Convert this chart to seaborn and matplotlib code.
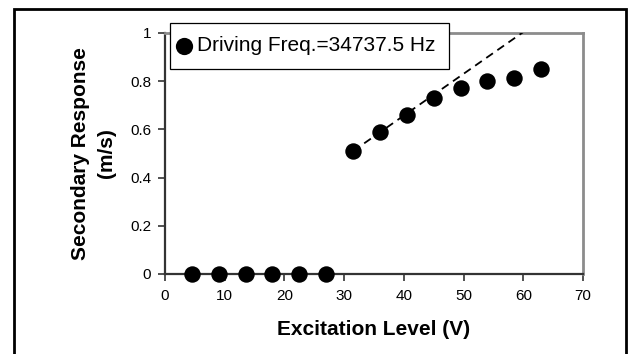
import matplotlib
matplotlib.use("Agg")
import matplotlib.pyplot as plt
import seaborn as sns
import pandas as pd
from matplotlib.patches import Rectangle

# Data
excitation_v = [4.5, 9, 13.5, 18, 22.5, 27, 31.5, 36, 40.5, 45, 49.5, 54, 58.5, 63]
response_ms = [0, 0, 0, 0, 0, 0, 0.51, 0.59, 0.66, 0.73, 0.77, 0.80, 0.815, 0.85]
trend_x = [31.5, 61.5]
trend_y = [0.51, 1.03]
series_label = "Driving Freq.=34737.5 Hz"
x_ticks = [0, 10, 20, 30, 40, 50, 60, 70]
y_ticks = [0, 0.2, 0.4, 0.6, 0.8, 1]
y_tick_labels = ["0", "0.2", "0.4", "0.6", "0.8", "1"]

sns.set_style("white")
plt.rcParams["font.family"] = ["Liberation Sans", "DejaVu Sans"]
plt.rcParams["text.color"] = "black"
plt.rcParams["axes.labelcolor"] = "black"
plt.rcParams["xtick.color"] = "black"
plt.rcParams["ytick.color"] = "black"

df = pd.DataFrame({"x": excitation_v, "y": response_ms})
tdf = pd.DataFrame({"x": trend_x, "y": trend_y})

fig = plt.figure(figsize=(6.29, 3.54), dpi=100)
ax = fig.add_axes([0.2623, 0.2260, 0.6646, 0.6808])

sns.lineplot(data=tdf, x="x", y="y", ax=ax, color="black", linewidth=1.3,
             linestyle=(0, (4.5, 3)), legend=False, zorder=3)
sns.scatterplot(data=df, x="x", y="y", ax=ax, color="black", s=140,
                edgecolor="black", linewidth=0, label=series_label,
                clip_on=False, zorder=5)

ax.set_xlim(0, 70)
ax.set_ylim(0, 1)
ax.set_xticks(x_ticks)
ax.set_xticklabels([str(t) for t in x_ticks])
ax.set_yticks(y_ticks)
ax.set_yticklabels(y_tick_labels)
ax.tick_params(axis="both", which="major", direction="out", length=5, width=1.2,
               color="#333333", labelcolor="black", labelsize=11, pad=5,
               left=True, bottom=True)
ax.tick_params(axis="x", pad=6)

for side in ("left", "bottom"):
    ax.spines[side].set_color("#333333")
    ax.spines[side].set_linewidth(1.6)
for side in ("top", "right"):
    ax.spines[side].set_color("#8c8c8c")
    ax.spines[side].set_linewidth(2.0)

ax.set_xlabel("Excitation Level (V)", fontsize=15, fontweight="bold", labelpad=12,
              color="black")
ax.set_ylabel("Secondary Response\n(m/s)", fontsize=15, fontweight="bold",
              labelpad=10, linespacing=1.5, color="black")

leg = ax.legend(loc="upper left", bbox_to_anchor=(170 / 629, 1 - 23 / 354),
                bbox_transform=fig.transFigure, frameon=True, fancybox=False,
                fontsize=15, handletextpad=0.57, borderpad=0.64,
                handlelength=0.1, borderaxespad=0, markerscale=1.05)
leg.get_frame().set_edgecolor("black")
leg.get_frame().set_linewidth(0.9)
leg.get_frame().set_alpha(1)
for t in leg.get_texts():
    t.set_color("black")
leg.set_zorder(10)

# outer border of the chart area
fig.patches.append(Rectangle((14 / 629, -0.05), (626 - 14) / 629, 1.05 - 9 / 354,
                             transform=fig.transFigure, fill=False,
                             edgecolor="black", linewidth=2.0, zorder=0))

fig.savefig("out.png", dpi=100)
